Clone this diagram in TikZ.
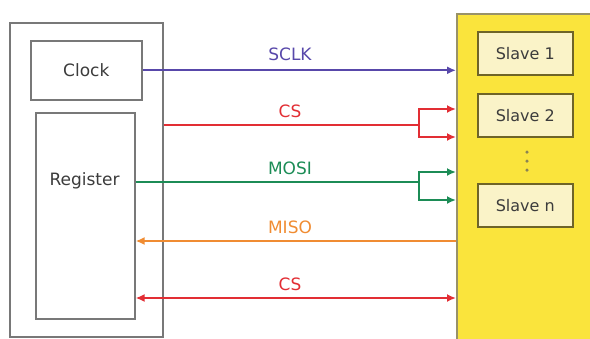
\documentclass[tikz,border=0pt]{standalone}
\usepackage{fontspec}
\setmainfont{DejaVu Sans}
\usetikzlibrary{arrows.meta}
\definecolor{cpurple}{RGB}{88,72,170}
\definecolor{cred}{RGB}{226,46,52}
\definecolor{cgreen}{RGB}{28,140,86}
\definecolor{corange}{RGB}{240,140,50}
\definecolor{cyellow}{RGB}{250,228,60}
\definecolor{ccream}{RGB}{250,243,200}
\definecolor{colive}{RGB}{110,100,40}
\definecolor{cgray}{RGB}{120,120,120}
\definecolor{ctext}{RGB}{60,60,60}
\tikzset{
  mbox/.style={draw=cgray, line width=1.6pt, fill=white, inner sep=0pt},
  sbox/.style={draw=colive, line width=1.6pt, fill=ccream, minimum width=95pt, minimum height=43pt, inner sep=0pt, font=\fontsize{16}{18}\selectfont, text=ctext},
  sig/.style={line width=1.8pt},
  tip/.style={-{Latex[length=9pt,width=8pt]}},
  lbl/.style={font=\fontsize{17}{19}\selectfont},
  dot/.style={circle, fill=colive!80, inner sep=0pt, minimum size=3.5pt}
}
\begin{document}
\begin{tikzpicture}[x=1pt,y=-1pt]
\useasboundingbox (0,0) rectangle (590,338);
\clip (0,0) rectangle (590,338);
% master
\node[mbox, minimum width=153pt, minimum height=314pt, anchor=north west] (master) at (9,22) {};
\node[mbox, minimum width=111pt, minimum height=59pt, anchor=north west, font=\fontsize{17}{19}\selectfont, text=ctext] (clock) at (30,40) {Clock};
\node[mbox, minimum width=99pt, minimum height=206pt, anchor=north west] (reg) at (35,112) {};
\node[font=\fontsize{17}{19}\selectfont, text=ctext] (regl) at (84.5,181) {Register};
% slave container
\node[draw=colive!70, line width=1.6pt, fill=cyellow, minimum width=150pt, minimum height=340pt, anchor=north west, inner sep=0pt] (slaves) at (456,13) {};
\node[sbox, anchor=north west] (s1) at (477,31) {Slave 1};
\node[sbox, anchor=north west] (s2) at (477,93) {Slave 2};
\node[sbox, anchor=north west] (sn) at (477,183) {Slave n};
\node[dot] (d1) at (527,152) {};
\node[dot] (d2) at (527,161) {};
\node[dot] (d3) at (527,170) {};
% branch points
\coordinate (b1) at (419,125);
\coordinate (b2) at (419,182);
% SCLK
\draw[sig, tip, cpurple] (clock.east) -- (clock.east -| slaves.west);
\node[lbl, text=cpurple] (lsclk) at (290,54) {SCLK};
% CS branch
\draw[sig, cred] (master.east |- b1) -- (b1);
\draw[sig, tip, cred] (b1) -- (419,109) -- (slaves.west |- 0,109);
\draw[sig, tip, cred] (b1) -- (419,137) -- (slaves.west |- 0,137);
\node[lbl, text=cred] (lcs1) at (290,111) {CS};
% MOSI
\draw[sig, cgreen] (reg.east |- b2) -- (b2);
\draw[sig, tip, cgreen] (b2) -- (419,172) -- (slaves.west |- 0,172);
\draw[sig, tip, cgreen] (b2) -- (419,200) -- (slaves.west |- 0,200);
\node[lbl, text=cgreen] (lmosi) at (290,168) {MOSI};
% MISO
\draw[sig, tip, corange] (slaves.west |- 0,241) -- (reg.east |- 0,241);
\node[lbl, text=corange] (lmiso) at (290,227) {MISO};
% CS bottom
\draw[sig, {Latex[length=9pt,width=8pt]}-{Latex[length=9pt,width=8pt]}, cred] (reg.east |- 0,298) -- (slaves.west |- 0,298);
\node[lbl, text=cred] (lcs2) at (290,284) {CS};
\end{tikzpicture}
\end{document}
